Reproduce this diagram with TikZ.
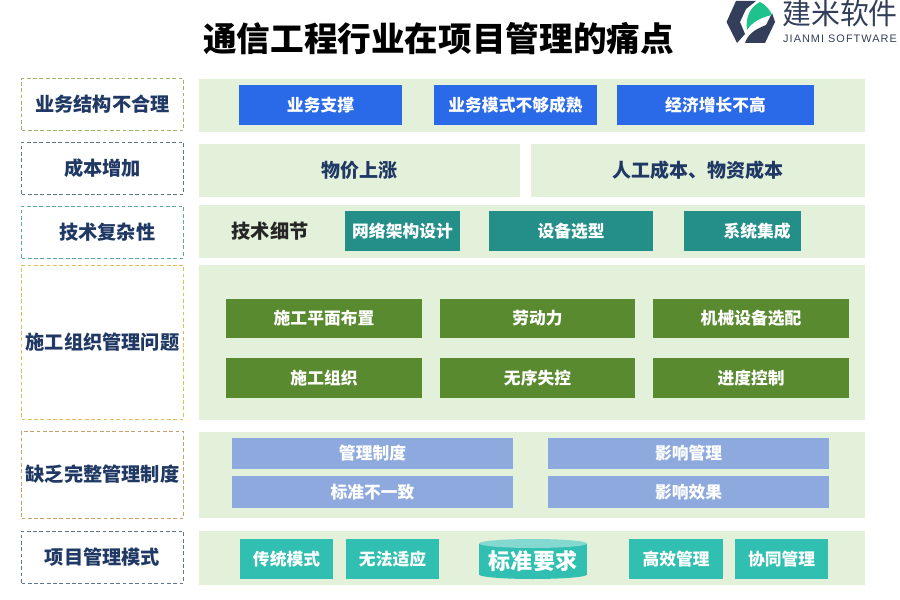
\documentclass[tikz,border=0pt]{standalone}
\usepackage{fontspec}
\usepackage{tikz}
\setmainfont{Noto Sans CJK SC}
\newfontfamily\logofont{Liberation Sans}
\definecolor{panelgreen}{HTML}{E3F0DA}
\definecolor{labelnavy}{HTML}{1F3864}
\definecolor{bluebox}{HTML}{2A6AE8}
\definecolor{tealbox}{HTML}{238F88}
\definecolor{grassbox}{HTML}{5A8A2F}
\definecolor{lilacbox}{HTML}{8EA9DD}
\definecolor{mintbox}{HTML}{30BFB0}
\definecolor{logodark}{HTML}{333F5A}
\definecolor{logogreen}{HTML}{1FC18C}
\definecolor{dasholive}{HTML}{9BB56F}
\definecolor{dashslate}{HTML}{5F7590}
\definecolor{dashteal}{HTML}{5FA8A8}
\definecolor{dashyellow}{HTML}{E0BE5A}
\definecolor{dashtan}{HTML}{C9A06C}
\tikzset{
	sz/.style 2 args={minimum width=#1*0.03cm, minimum height=#2*0.03cm, inner sep=0pt},
	rowlabel/.style={draw=#1, line width=0.8pt, dash pattern=on 3.2pt off 2.2pt, text=labelnavy, font=\fontsize{16.4}{18}\selectfont\bfseries},
	panel/.style={fill=panelgreen, text=labelnavy, font=\fontsize{16.2}{18}\selectfont\bfseries},
	tag/.style={fill=#1, text=white, font=\fontsize{14.3}{16}\selectfont\bfseries},
}

\begin{document}
\begin{tikzpicture}[x=0.03cm, y=-0.03cm]
	\useasboundingbox (0, 0) rectangle (900, 600);
	
	\node[font=\fontsize{28.7}{32}\selectfont\bfseries] (title) at (438.5, 39) {通信工程行业在项目管理的痛点};
	
	% logo
	\fill[logodark] (726.5, 22) -- (736, 1) -- (756, 1) -- (746, 9) -- (740, 22) -- (745, 34) -- (737, 43) -- cycle;
	\fill[logodark] (745, 43) .. controls (748, 35) and (753, 30) .. (766, 25) -- (772, 13) -- (775, 22) -- (765, 43) -- cycle;
	\fill[logogreen] (747, 30) .. controls (745, 15) and (752, 6) .. (760, 2) .. controls (766, 5) and (770, 10) .. (772, 15) .. controls (762, 17) and (752, 22) .. cycle;
	\node[font=\fontsize{24.7}{26}\selectfont, text=logodark] (brand) at (840, 14) {建米软件};
	\node[font=\logofont\fontsize{9.3}{11}\selectfont\addfontfeature{LetterSpace=9.5}, text=logodark] (brandlatin) at (840, 38.5) {JIANMI SOFTWARE};
	
	% left column
	\node[rowlabel=dasholive, sz={162}{52}] (structure) at (102.5, 104.5) {业务结构不合理};
	\node[rowlabel=dashslate, sz={162}{52}] (cost) at (102.5, 168) {成本增加};
	\node[rowlabel=dashteal, sz={162}{52}] (tech) at (102.5, 232) {\hspace{8pt}技术复杂性};
	\node[rowlabel=dashyellow, sz={162}{154}] (site) at (102.5, 342) {施工组织管理问题};
	\node[rowlabel=dashtan, sz={162}{87}] (system) at (102.5, 474.5) {缺乏完整管理制度};
	\node[rowlabel=dashslate, sz={162}{52}] (mode) at (102.5, 557) {项目管理模式};
	
	% panels
	\node[panel, sz={666}{53}] (panela) at (532, 105.5) {};
	\node[panel, sz={321}{53}] (panelb) at (359.5, 170.5) {物价上涨};
	\node[panel, sz={334}{53}] (panelc) at (698, 170.5) {人工成本、物资成本};
	\node[panel, sz={666}{53}] (paneld) at (532, 231.5) {};
	\node[panel, sz={666}{155}] (panele) at (532, 342.5) {};
	\node[panel, sz={666}{86}] (panelf) at (532, 475) {};
	\node[panel, sz={666}{54}] (panelg) at (532, 558) {};
	
	% row 1
	\node[tag=bluebox, sz={163}{40}] (support) at (320.5, 105) {业务支撑};
	\node[tag=bluebox, sz={163}{40}] (business) at (515.5, 105) {业务模式不够成熟};
	\node[tag=bluebox, sz={197}{40}] (growth) at (715.5, 105) {经济增长不高};
	
	% row 3
	\node[font=\fontsize{16.4}{18}\selectfont\bfseries, text=black!85] (detail) at (270, 231.5) {技术细节};
	\node[tag=tealbox, sz={115}{40}] (network) at (402.5, 231) {网络架构设计};
	\node[tag=tealbox, sz={164}{40}] (device) at (571, 231) {设备选型};
	\node[tag=tealbox, sz={117}{40}] (integrate) at (742.5, 231) {\hspace{25pt}系统集成};
	
	% row 4
	\node[tag=grassbox, sz={196}{39}] (layout) at (324, 318.5) {施工平面布置};
	\node[tag=grassbox, sz={195}{39}] (labor) at (537.5, 318.5) {劳动力};
	\node[tag=grassbox, sz={196}{39}] (machine) at (751, 318.5) {机械设备选配};
	\node[tag=grassbox, sz={196}{40}] (organize) at (324, 378) {施工组织};
	\node[tag=grassbox, sz={195}{40}] (disorder) at (537.5, 378) {无序失控};
	\node[tag=grassbox, sz={196}{40}] (progress) at (751, 378) {进度控制};
	
	% row 5
	\node[tag=lilacbox, sz={281}{31}] (rule) at (372.5, 453.5) {管理制度};
	\node[tag=lilacbox, sz={281}{32}] (standard) at (372.5, 492) {标准不一致};
	\node[tag=lilacbox, sz={281}{31}] (impact) at (688.5, 453.5) {影响管理};
	\node[tag=lilacbox, sz={281}{32}] (effect) at (688.5, 492) {影响效果};
	
	% row 6
	\node[tag=mintbox, sz={93}{40}] (legacy) at (286.5, 559) {传统模式};
	\node[tag=mintbox, sz={93}{40}] (adapt) at (392.5, 559) {无法适应};
	\fill[mintbox] (533, 574.5) ellipse [x radius=54, y radius=4.5];
	\fill[mintbox] (479, 543.5) rectangle (587, 574.5);
	\fill[mintbox!60!white] (533, 543.5) ellipse [x radius=54, y radius=4.5];
	\node[text=white, font=\fontsize{18.8}{20}\selectfont\bfseries] (require) at (533, 561) {标准要求};
	\node[tag=mintbox, sz={94}{40}] (efficient) at (676, 559) {高效管理};
	\node[tag=mintbox, sz={93}{40}] (cooperate) at (781.5, 559) {协同管理};
	
\end{tikzpicture}
\end{document}
